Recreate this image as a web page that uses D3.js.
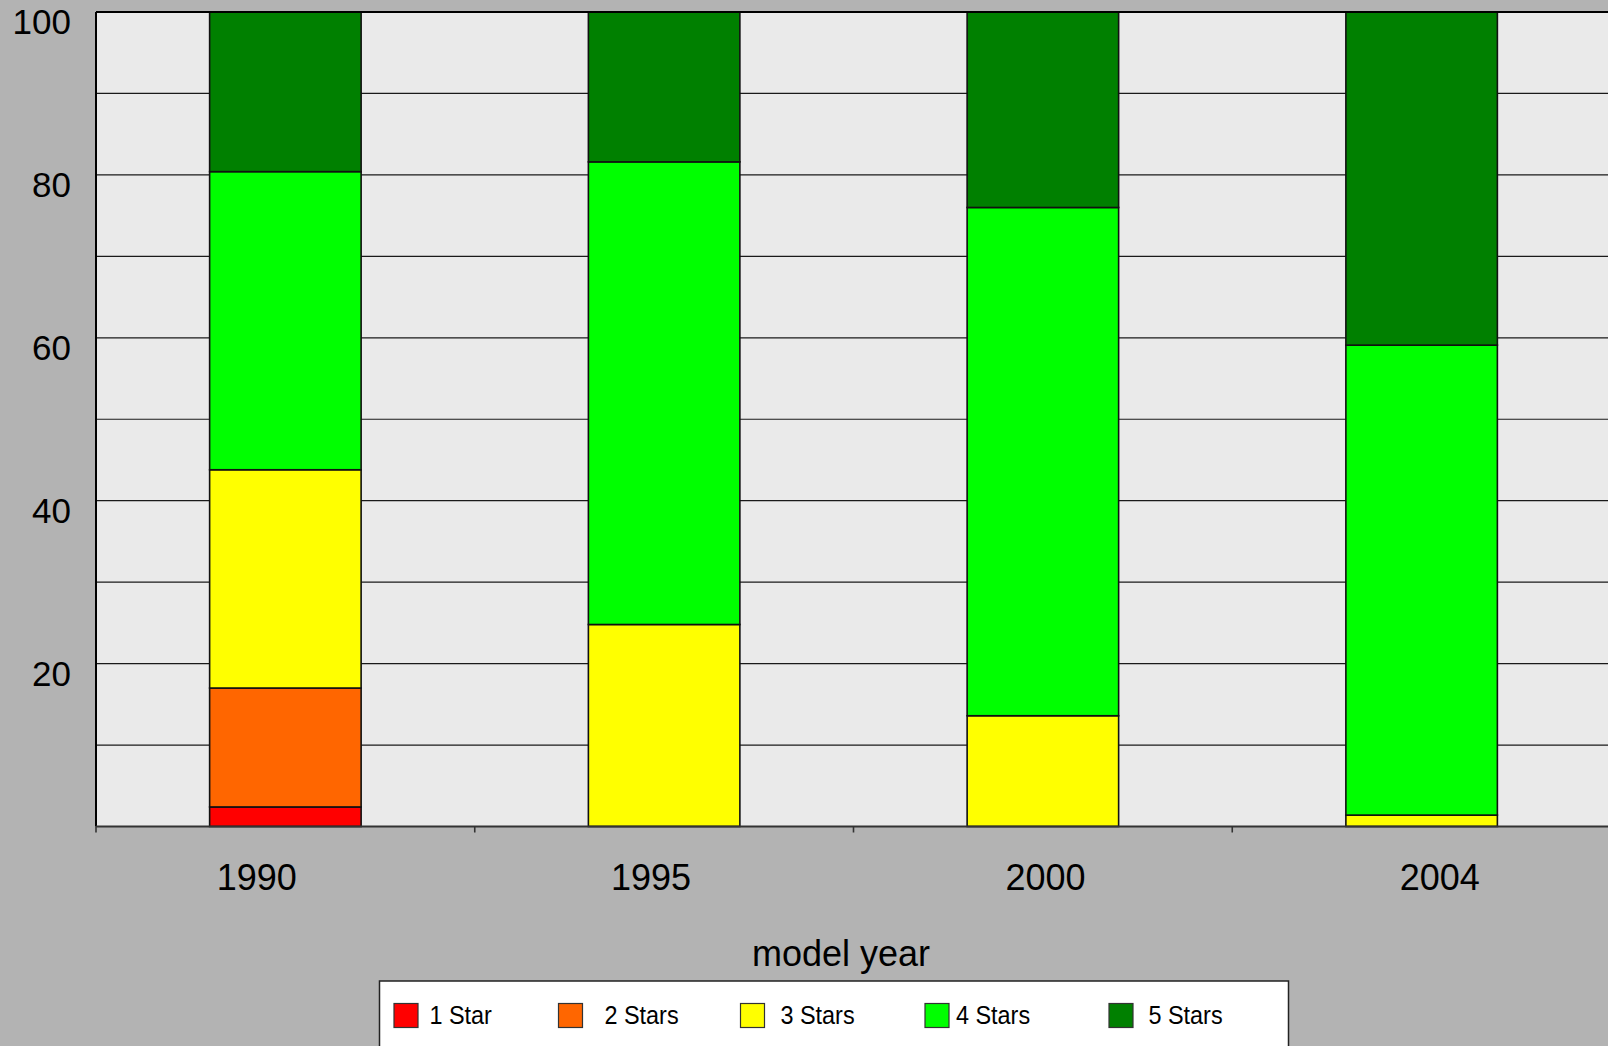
<!DOCTYPE html>
<html>
<head>
<meta charset="utf-8">
<script src="https://cdn.jsdelivr.net/npm/d3@7/dist/d3.min.js"></script>
<style>
  html, body { margin: 0; padding: 0; background: #b3b3b3; }
  svg { display: block; font-family: "Liberation Sans", Arial, sans-serif; }
</style>
</head>
<body>
<svg id="chart" width="1608" height="1046"></svg>
<script>
// Share of vehicles by star rating, per model year (percent)
const years = ["1990", "1995", "2000", "2004"];
const ratings = ["1 Star", "2 Stars", "3 Stars", "4 Stars", "5 Stars"];
const oneStar    = [2.4, 0, 0, 0];
const twoStars   = [14.6, 0, 0, 0];
const threeStars = [26.8, 24.8, 13.6, 1.4];
const fourStars  = [36.6, 56.8, 62.4, 57.7];
const fiveStars  = [19.6, 18.4, 24.0, 40.9];
const yTickLabels = [20, 40, 60, 80, 100];
const gridValues = [10, 20, 30, 40, 50, 60, 70, 80, 90, 100];
const ratingColors = ["#ff0000", "#ff6600", "#ffff00", "#00ff00", "#008000"];
const xTitle = "model year";

const seriesValues = [oneStar, twoStars, threeStars, fourStars, fiveStars];
const table = years.map((yr, i) => {
  const row = { year: yr };
  ratings.forEach((r, k) => { row[r] = seriesValues[k][i]; });
  return row;
});

const svg = d3.select("#chart");

const plot = { left: 96, top: 12, bottom: 826.5, right: 1611 };

const x = d3.scaleBand()
  .domain(years)
  .range([plot.left, plot.right])
  .paddingInner(0.6)
  .paddingOuter(0.3);

// category labels sit on their own, slightly wider spacing
const xLabel = d3.scaleBand()
  .domain(years)
  .range([59.5, 1637]);

const y = d3.scaleLinear().domain([0, 100]).range([plot.bottom, plot.top]);

const color = d3.scaleOrdinal().domain(ratings).range(ratingColors);

// plot background
svg.append("rect")
  .attr("x", plot.left).attr("y", plot.top)
  .attr("width", plot.right - plot.left)
  .attr("height", plot.bottom - plot.top)
  .attr("fill", "#eaeaea");

// horizontal gridlines
svg.append("g")
  .selectAll("line")
  .data(gridValues)
  .join("line")
  .attr("x1", plot.left).attr("x2", plot.right)
  .attr("y1", d => y(d)).attr("y2", d => y(d))
  .attr("stroke", "#1a1a1a")
  .attr("stroke-width", 1.2);

// stacked bars
const stacked = d3.stack().keys(ratings)(table);

svg.append("g")
  .selectAll("g")
  .data(stacked)
  .join("g")
  .attr("fill", d => color(d.key))
  .selectAll("rect")
  .data(d => d.filter(s => s[1] - s[0] > 0))
  .join("rect")
  .attr("x", d => x(d.data.year))
  .attr("width", x.bandwidth())
  .attr("y", d => y(d[1]))
  .attr("height", d => y(d[0]) - y(d[1]))
  .attr("stroke", "#111")
  .attr("stroke-width", 1.6);

// frame: top and left borders
svg.append("line")
  .attr("x1", plot.left).attr("x2", plot.right)
  .attr("y1", plot.top).attr("y2", plot.top)
  .attr("stroke", "#000").attr("stroke-width", 2);
svg.append("line")
  .attr("x1", plot.left).attr("x2", plot.left)
  .attr("y1", plot.top).attr("y2", plot.bottom)
  .attr("stroke", "#000").attr("stroke-width", 2);

// x axis line with tick marks on category boundaries
svg.append("line")
  .attr("x1", plot.left).attr("x2", plot.right)
  .attr("y1", plot.bottom).attr("y2", plot.bottom)
  .attr("stroke", "#333").attr("stroke-width", 2);

const boundaries = years.map(d => x(d) - x.step() * x.paddingOuter());
svg.append("g")
  .selectAll("line")
  .data(boundaries)
  .join("line")
  .attr("x1", d => d).attr("x2", d => d)
  .attr("y1", plot.bottom).attr("y2", plot.bottom + 6)
  .attr("stroke", "#333").attr("stroke-width", 1.6);

// y tick labels
svg.append("g")
  .selectAll("text")
  .data(yTickLabels)
  .join("text")
  .attr("x", 71)
  .attr("y", d => y(d) + 22)
  .attr("text-anchor", "end")
  .attr("font-size", 35)
  .attr("fill", "#000")
  .text(d => d);

// x category labels
svg.append("g")
  .selectAll("text")
  .data(years)
  .join("text")
  .attr("x", d => xLabel(d) + xLabel.bandwidth() / 2)
  .attr("y", 890)
  .attr("text-anchor", "middle")
  .attr("font-size", 36)
  .attr("fill", "#000")
  .text(d => d);

// x axis title
svg.append("text")
  .attr("x", 841)
  .attr("y", 966)
  .attr("text-anchor", "middle")
  .attr("font-size", 36)
  .attr("fill", "#000")
  .text(xTitle);

// legend box with one swatch + label per rating
const legendBox = { x: 379.5, y: 981, w: 909, h: 90 };
const legend = svg.append("g");
legend.append("rect")
  .attr("x", legendBox.x).attr("y", legendBox.y)
  .attr("width", legendBox.w).attr("height", legendBox.h)
  .attr("fill", "#fff")
  .attr("stroke", "#222").attr("stroke-width", 1.5);

// horizontal slot offsets inside the legend box: swatch start, label start
const swatchOffset = [14.5, 179, 361, 545.5, 729.5];
const labelOffset = [50, 225, 401, 576.5, 769];

const item = legend.selectAll("g.item")
  .data(ratings)
  .join("g")
  .attr("class", "item");

item.append("rect")
  .attr("x", (d, i) => legendBox.x + swatchOffset[i])
  .attr("y", legendBox.y + 22.5)
  .attr("width", 24).attr("height", 24)
  .attr("fill", d => color(d))
  .attr("stroke", "#333").attr("stroke-width", 1.2);

item.append("text")
  .attr("transform", (d, i) => `translate(${legendBox.x + labelOffset[i]},${legendBox.y + 43}) scale(0.9,1)`)
  .attr("font-size", 26)
  .attr("fill", "#000")
  .text(d => d);
</script>
</body>
</html>
